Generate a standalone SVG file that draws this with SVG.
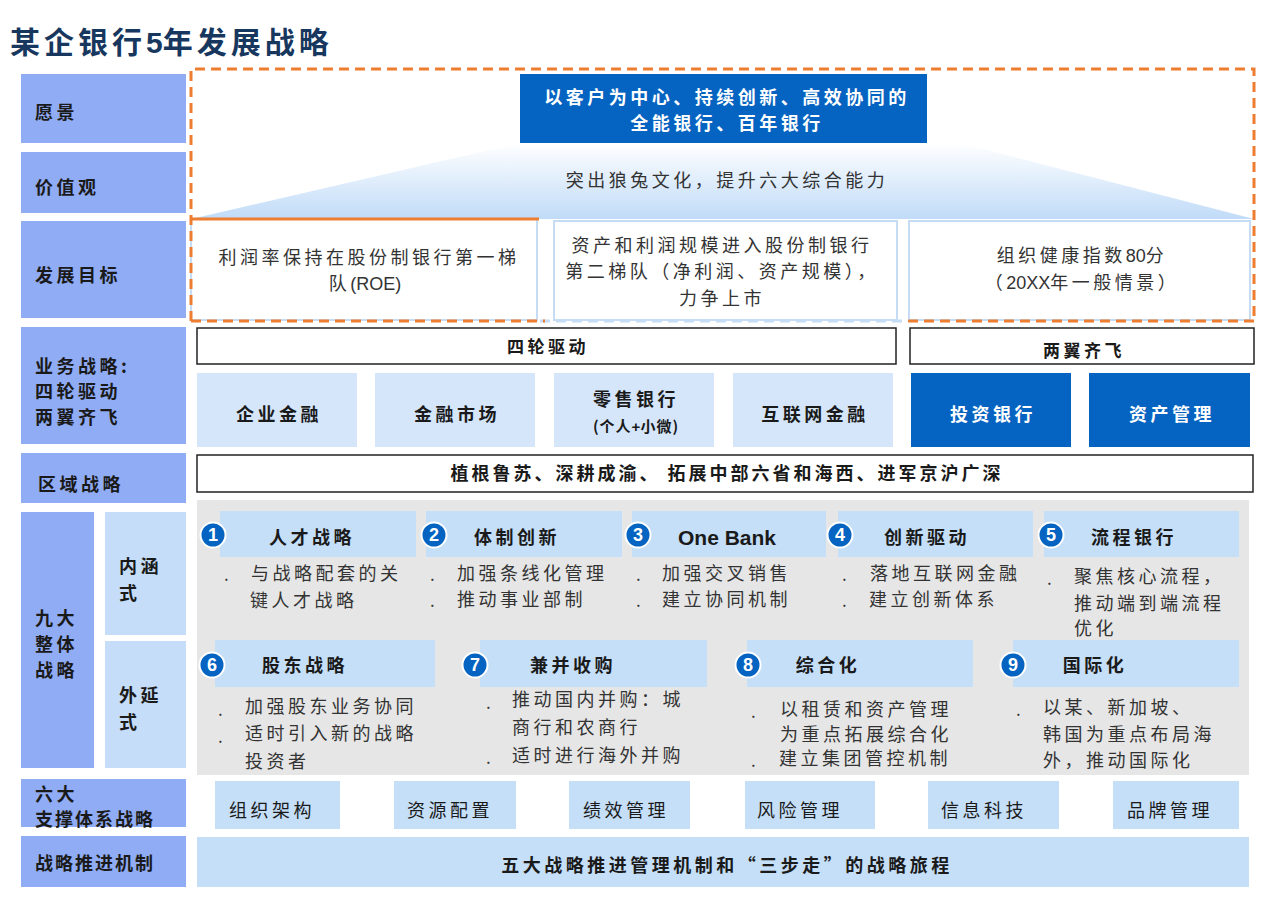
<svg xmlns="http://www.w3.org/2000/svg" width="1280" height="898" viewBox="0 0 1280 898">
<defs>
<linearGradient id="fan" x1="0" y1="0" x2="0" y2="1">
<stop offset="0" stop-color="#ffffff"/>
<stop offset="1" stop-color="#c0dbf8"/>
</linearGradient>
</defs>
<style>
text{font-family:"Noto Sans CJK SC","Noto Sans",sans-serif;fill:#1a1a1a;letter-spacing:3.5px}
.lat{font-family:"Liberation Sans",Arial,sans-serif;letter-spacing:0}
.lab{fill:#90acf5}
.lab2{fill:#c5ddf8}
.lt{font-size:18px;font-weight:bold}
.hdr{fill:#c5dff8}
.biz{fill:#d5e6fb}
.dark{fill:#0563c1}
.wt{fill:#ffffff;font-weight:bold}
.bx{fill:#ffffff;stroke:#222;stroke-width:1.5}
.goal{fill:#ffffff;stroke:#c6dcf5;stroke-width:2}
.gt{font-size:18px;fill:#333}
.b{font-size:17px;font-weight:bold}
.h{font-size:18px;font-weight:bold}
.bl{font-size:18px;fill:#333}
.num{fill:#0563c1;stroke:#ffffff;stroke-width:2}
.nt{fill:#ffffff;font-family:"Liberation Sans",Arial,sans-serif;font-weight:bold;font-size:18px;letter-spacing:0}
.dot{font-size:17px;fill:#333}
</style>
<text x="10" y="53" style="font-size:30px;font-weight:bold;fill:#17375e;letter-spacing:4px">某企银行<tspan class="lat">5</tspan>年发展战略</text>

<g id="labels">
<g id="lab-vision"><rect class="lab" x="21" y="74" width="165" height="69"/><text class="lt" x="35" y="119">愿景</text></g>
<g id="lab-value"><rect class="lab" x="21" y="152" width="165" height="61"/><text class="lt" x="35" y="194">价值观</text></g>
<g id="lab-goal"><rect class="lab" x="21" y="221" width="165" height="97"/><text class="lt" x="35" y="282">发展目标</text></g>
<g id="lab-biz"><rect class="lab" x="21" y="327" width="165" height="117"/><text class="lt" x="35" y="373">业务战略:</text><text class="lt" x="35" y="398">四轮驱动</text><text class="lt" x="35" y="424">两翼齐飞</text></g>
<g id="lab-region"><rect class="lab" x="21" y="453" width="165" height="50"/><text class="lt" x="38" y="491">区域战略</text></g>
<g id="lab-nine"><rect class="lab" x="21" y="512" width="73" height="256"/><text class="lt" x="35" y="625">九大</text><text class="lt" x="35" y="651">整体</text><text class="lt" x="35" y="677">战略</text></g>
<g id="lab-inner"><rect class="lab2" x="105" y="512" width="81" height="123"/><text class="lt" x="119" y="573">内涵</text><text class="lt" x="119" y="600">式</text></g>
<g id="lab-outer"><rect class="lab2" x="105" y="641" width="81" height="127"/><text class="lt" x="119" y="702">外延</text><text class="lt" x="119" y="729">式</text></g>
<g id="lab-support"><rect class="lab" x="21" y="779" width="165" height="48"/><text class="lt" x="35" y="801">六大</text><text class="lt" x="35" y="826" style="letter-spacing:2px">支撑体系战略</text></g>
<g id="lab-mech"><rect class="lab" x="21" y="836" width="165" height="51"/><text class="lt" x="35" y="870" style="letter-spacing:2px">战略推进机制</text></g>
</g>

<g id="fan-area">
<polygon points="520,143 960,143 1254,219 191,219" fill="url(#fan)"/>
<text x="727" y="187" text-anchor="middle" style="font-size:18px;fill:#333">突出狼兔文化，提升六大综合能力</text>
</g>

<g id="vision">
<rect class="dark" x="520" y="74" width="407" height="69"/>
<text class="wt" x="727" y="104" text-anchor="middle" style="font-size:18px">以客户为中心、持续创新、高效协同的</text>
<text class="wt" x="727" y="130" text-anchor="middle" style="font-size:18px">全能银行、百年银行</text>
</g>

<g id="goals">
<g id="goal1"><rect class="goal" x="191" y="219" width="346" height="101"/><line x1="191" y1="219" x2="539" y2="219" stroke="#ed7d31" stroke-width="3"/>
<text class="gt" x="369" y="264" text-anchor="middle">利润率保持在股份制银行第一梯</text><text class="gt" x="365" y="290" text-anchor="middle">队<tspan class="lat">(ROE)</tspan></text></g>
<g id="goal2"><rect class="goal" x="554" y="221" width="343" height="99"/>
<text class="gt" x="722" y="252" text-anchor="middle">资产和利润规模进入股份制银行</text><text class="gt" x="722" y="278" text-anchor="middle">第二梯队（净利润、资产规模），</text><text class="gt" x="722" y="305" text-anchor="middle">力争上市</text></g>
<g id="goal3"><rect class="goal" x="909" y="221" width="341" height="99"/>
<text class="gt" x="1082" y="262" text-anchor="middle">组织健康指数<tspan class="lat">80</tspan>分</text><text class="gt" x="1082" y="289" text-anchor="middle">（<tspan class="lat">20XX</tspan>年一般情景）</text></g>
<line x1="540" y1="321" x2="908" y2="321" stroke="#c6dcf5" stroke-width="3" stroke-dasharray="10,6"/>
<path d="M191,321 L191,69 L1254,69 L1254,321 M191,321 L545,321 M908,321 L1254,321" fill="none" stroke="#ed7d31" stroke-width="3" stroke-dasharray="10,6"/>
</g>

<g id="biz">
<g id="four-wheel"><rect class="bx" x="197" y="328" width="699" height="36"/><text class="b" x="548" y="353" text-anchor="middle">四轮驱动</text></g>
<g id="two-wing"><rect class="bx" x="910" y="328" width="344" height="36"/><text class="b" x="1084" y="357" text-anchor="middle">两翼齐飞</text></g>
<g id="b1"><rect class="biz" x="197" y="373" width="160" height="74"/><text class="h" x="279" y="421" text-anchor="middle">企业金融</text></g>
<g id="b2"><rect class="biz" x="375" y="373" width="160" height="74"/><text class="h" x="457" y="421" text-anchor="middle">金融市场</text></g>
<g id="b3"><rect class="biz" x="554" y="373" width="160" height="74"/><text class="h" x="636" y="406" text-anchor="middle">零售银行</text><text x="636" y="432" text-anchor="middle" style="font-size:15px;font-weight:bold;letter-spacing:1px">(个人<tspan class="lat">+</tspan>小微)</text></g>
<g id="b4"><rect class="biz" x="733" y="373" width="160" height="74"/><text class="h" x="815" y="421" text-anchor="middle">互联网金融</text></g>
<g id="b5"><rect class="dark" x="911" y="373" width="160" height="74"/><text class="wt" x="993" y="421" text-anchor="middle" style="font-size:18px">投资银行</text></g>
<g id="b6"><rect class="dark" x="1089" y="373" width="161" height="74"/><text class="wt" x="1172" y="421" text-anchor="middle" style="font-size:18px">资产管理</text></g>
</g>

<g id="region"><rect class="bx" x="197" y="455" width="1056" height="37"/><text class="b" x="727" y="480" text-anchor="middle" style="font-size:18px;letter-spacing:3px">植根鲁苏、深耕成渝、 拓展中部六省和海西、进军京沪广深</text></g>

<g id="nine">
<rect x="197" y="500" width="1052" height="275" fill="#e6e6e6"/>
<g id="s1"><rect class="hdr" x="220" y="511" width="196" height="46"/><circle class="num" cx="213" cy="535" r="12.5"/><text class="nt" x="213" y="541" text-anchor="middle">1</text><text class="h" x="312" y="544" text-anchor="middle">人才战略</text>
<text class="dot" x="224" y="581">.</text><text class="bl" x="251" y="580">与战略配套的关</text><text class="bl" x="250" y="607">键人才战略</text></g>
<g id="s2"><rect class="hdr" x="426" y="511" width="196" height="46"/><circle class="num" cx="434" cy="535" r="12.5"/><text class="nt" x="434" y="541" text-anchor="middle">2</text><text class="h" x="517" y="544" text-anchor="middle">体制创新</text>
<text class="dot" x="430" y="581">.</text><text class="bl" x="457" y="580">加强条线化管理</text><text class="dot" x="430" y="607">.</text><text class="bl" x="457" y="606">推动事业部制</text></g>
<g id="s3"><rect class="hdr" x="632" y="511" width="194" height="46"/><circle class="num" cx="638" cy="535" r="12.5"/><text class="nt" x="638" y="541" text-anchor="middle">3</text><text x="727" y="545" text-anchor="middle" style="font-family:'Liberation Sans',Arial,sans-serif;font-size:21px;font-weight:bold;letter-spacing:0">One Bank</text>
<text class="dot" x="636" y="581">.</text><text class="bl" x="662" y="580">加强交叉销售</text><text class="dot" x="636" y="607">.</text><text class="bl" x="662" y="606">建立协同机制</text></g>
<g id="s4"><rect class="hdr" x="838" y="511" width="195" height="46"/><circle class="num" cx="840" cy="535" r="12.5"/><text class="nt" x="840" y="541" text-anchor="middle">4</text><text class="h" x="927" y="544" text-anchor="middle">创新驱动</text>
<text class="dot" x="842" y="581">.</text><text class="bl" x="870" y="580">落地互联网金融</text><text class="dot" x="842" y="607">.</text><text class="bl" x="869" y="606">建立创新体系</text></g>
<g id="s5"><rect class="hdr" x="1044" y="511" width="195" height="46"/><circle class="num" cx="1051" cy="535" r="12.5"/><text class="nt" x="1051" y="541" text-anchor="middle">5</text><text class="h" x="1134" y="544" text-anchor="middle">流程银行</text>
<text class="dot" x="1047" y="585">.</text><text class="bl" x="1074" y="583">聚焦核心流程，</text><text class="bl" x="1074" y="610">推动端到端流程</text><text class="bl" x="1074" y="635">优化</text></g>

<g id="s6"><rect class="hdr" x="215" y="640" width="220" height="47"/><circle class="num" cx="212" cy="665" r="12.5"/><text class="nt" x="212" y="671" text-anchor="middle">6</text><text class="h" x="305" y="672" text-anchor="middle">股东战略</text>
<text class="dot" x="218" y="716">.</text><text class="bl" x="245" y="713">加强股东业务协同</text><text class="dot" x="218" y="743">.</text><text class="bl" x="245" y="740">适时引入新的战略</text><text class="bl" x="245" y="768">投资者</text></g>
<g id="s7"><rect class="hdr" x="480" y="640" width="227" height="47"/><circle class="num" cx="475" cy="665" r="12.5"/><text class="nt" x="475" y="671" text-anchor="middle">7</text><text class="h" x="573" y="672" text-anchor="middle">兼并收购</text>
<text class="dot" x="486" y="709">.</text><text class="bl" x="512" y="706">推动国内并购：城</text><text class="bl" x="512" y="734">商行和农商行</text><text class="dot" x="486" y="764">.</text><text class="bl" x="512" y="762">适时进行海外并购</text></g>
<g id="s8"><rect class="hdr" x="747" y="640" width="226" height="47"/><circle class="num" cx="748" cy="665" r="12.5"/><text class="nt" x="748" y="671" text-anchor="middle">8</text><text class="h" x="828" y="672" text-anchor="middle">综合化</text>
<text class="dot" x="751" y="718">.</text><text class="bl" x="780" y="716">以租赁和资产管理</text><text class="bl" x="780" y="741">为重点拓展综合化</text><text class="dot" x="751" y="767">.</text><text class="bl" x="779" y="765">建立集团管控机制</text></g>
<g id="s9"><rect class="hdr" x="1013" y="640" width="226" height="47"/><circle class="num" cx="1013" cy="665" r="12.5"/><text class="nt" x="1013" y="671" text-anchor="middle">9</text><text class="h" x="1095" y="672" text-anchor="middle">国际化</text>
<text class="dot" x="1016" y="716">.</text><text class="bl" x="1043" y="714">以某、新加坡、</text><text class="bl" x="1043" y="741">韩国为重点布局海</text><text class="bl" x="1043" y="767">外，推动国际化</text></g>
</g>

<g id="support">
<g id="sp1"><rect class="hdr" x="215" y="781" width="125" height="48"/><text class="lt" x="229" y="817" style="font-weight:normal">组织架构</text></g>
<g id="sp2"><rect class="hdr" x="394" y="781" width="122" height="48"/><text class="lt" x="407" y="817" style="font-weight:normal">资源配置</text></g>
<g id="sp3"><rect class="hdr" x="569" y="781" width="121" height="48"/><text class="lt" x="583" y="817" style="font-weight:normal">绩效管理</text></g>
<g id="sp4"><rect class="hdr" x="745" y="781" width="130" height="48"/><text class="lt" x="757" y="817" style="font-weight:normal">风险管理</text></g>
<g id="sp5"><rect class="hdr" x="928" y="781" width="131" height="48"/><text class="lt" x="941" y="817" style="font-weight:normal">信息科技</text></g>
<g id="sp6"><rect class="hdr" x="1113" y="781" width="126" height="48"/><text class="lt" x="1127" y="817" style="font-weight:normal">品牌管理</text></g>
</g>

<g id="mech"><rect class="hdr" x="197" y="837" width="1052" height="50"/><text class="b" x="727" y="872" text-anchor="middle" style="font-size:18px">五大战略推进管理机制和“三步走”的战略旅程</text></g>
<g id="connectors"/>
</svg>
